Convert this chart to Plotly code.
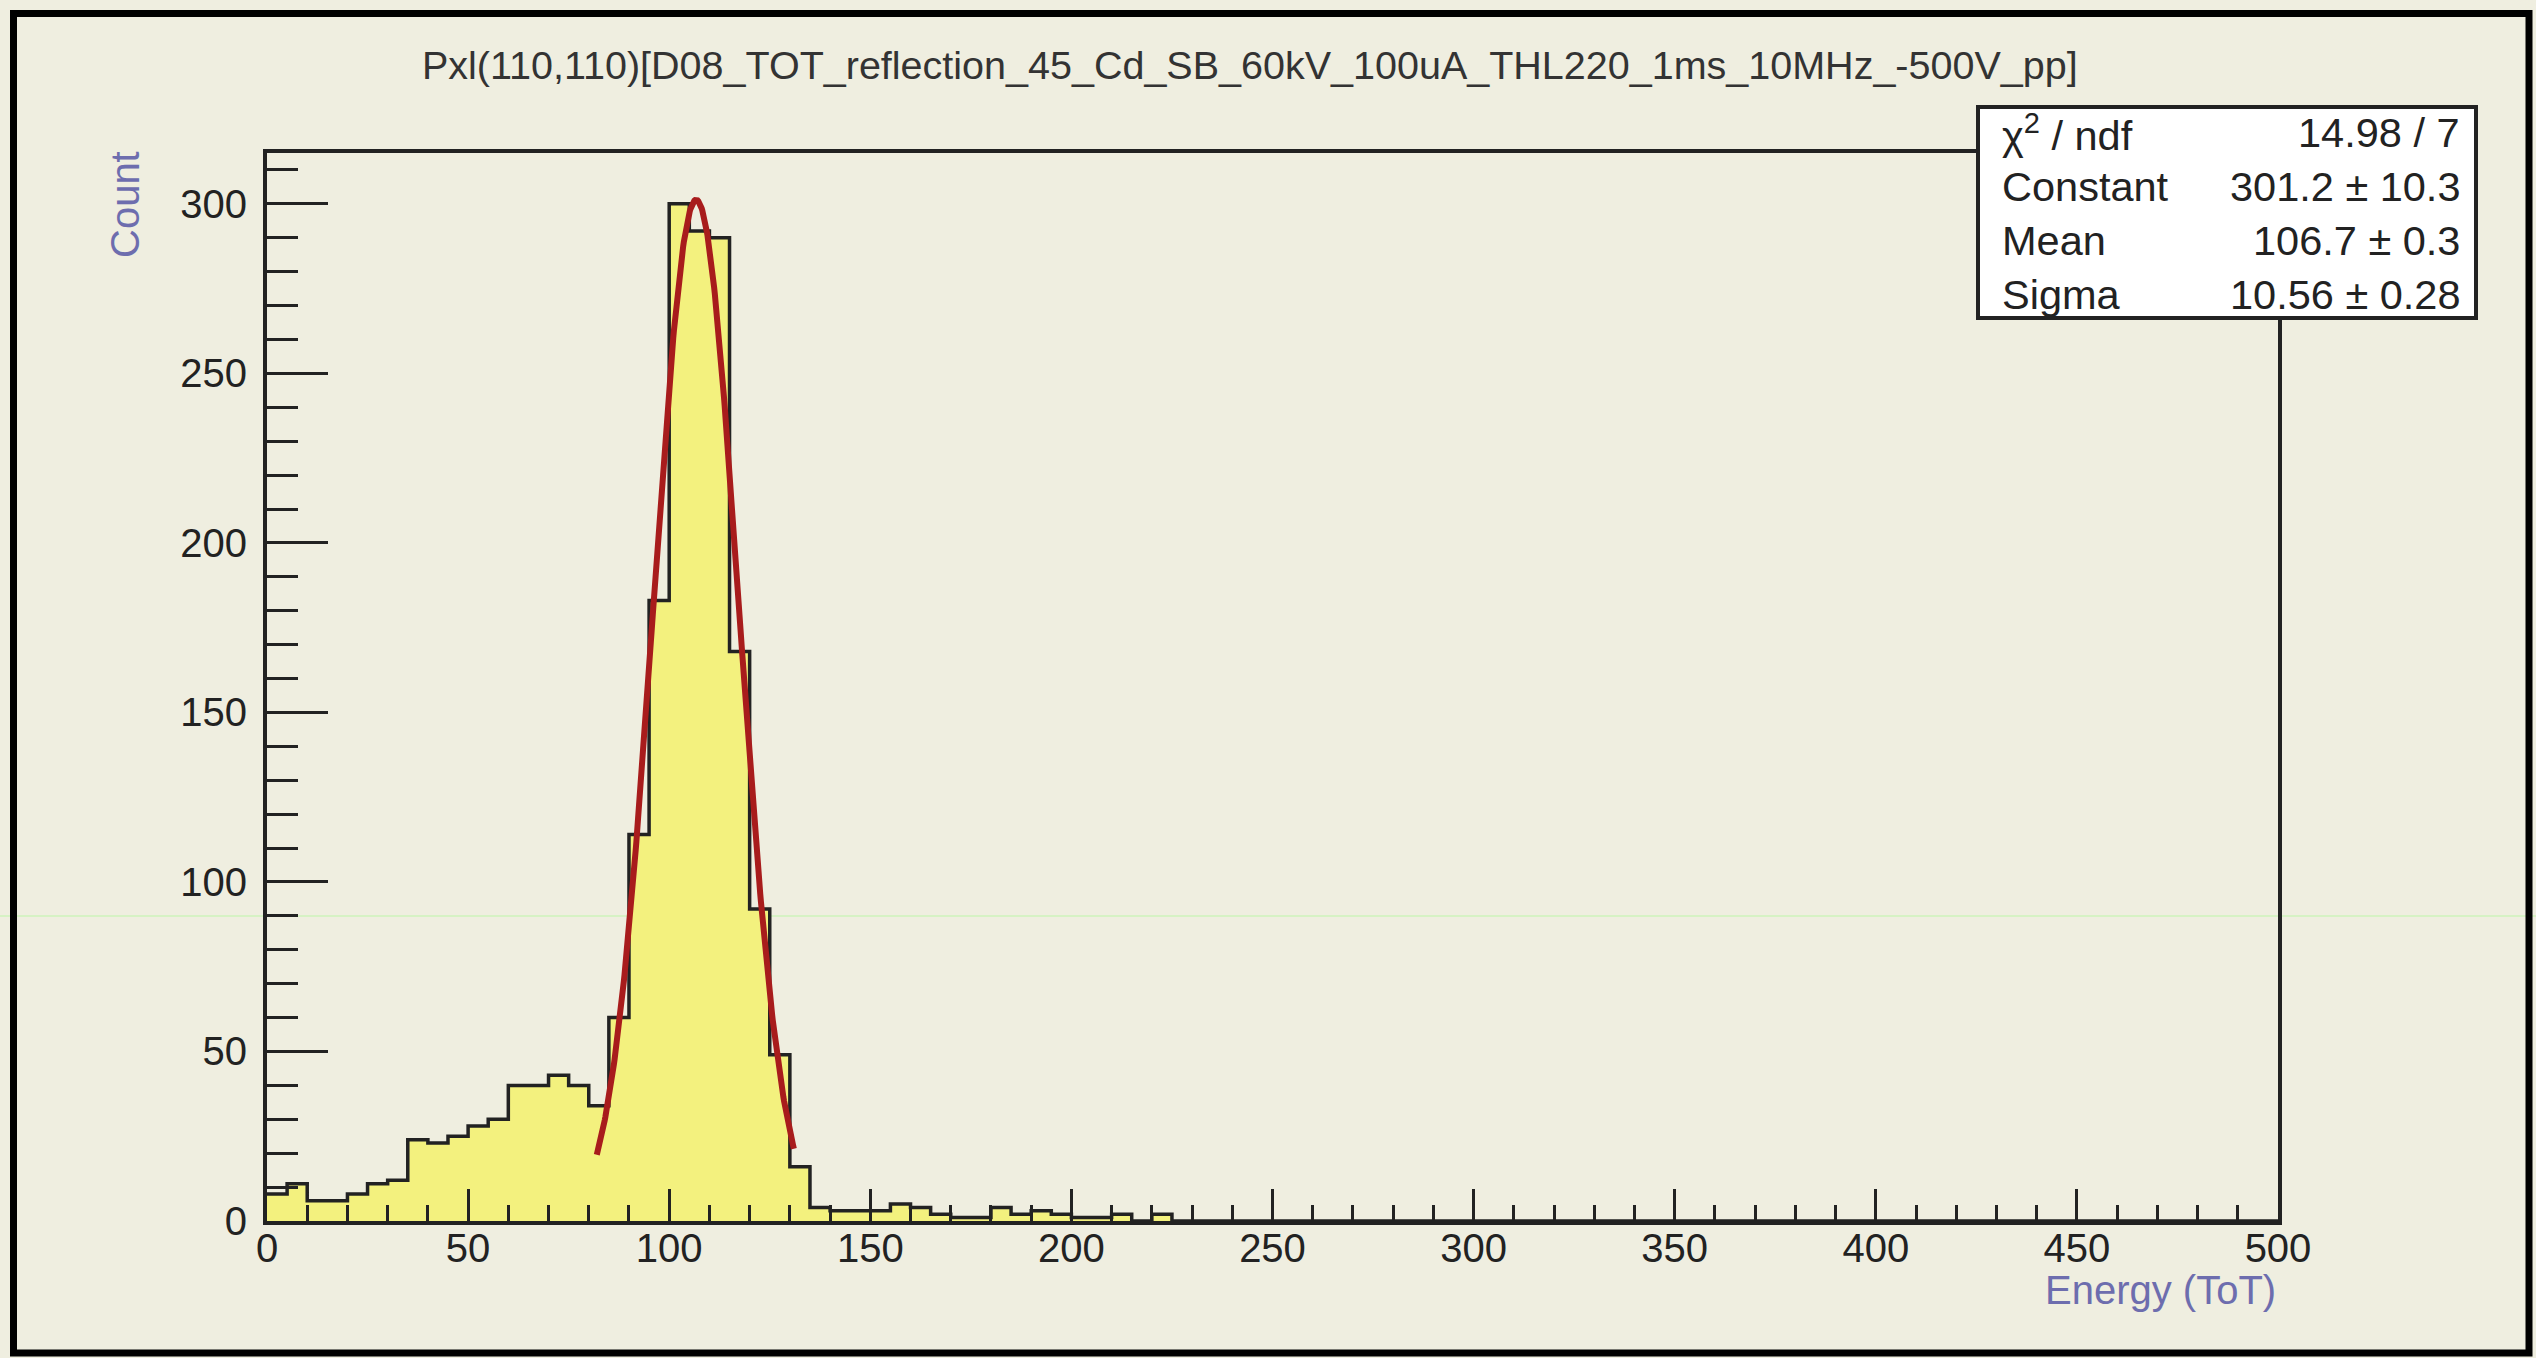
import numpy as np
import plotly.graph_objects as go

# ---------------- data ----------------
title_text = "Pxl(110,110)[D08_TOT_reflection_45_Cd_SB_60kV_100uA_THL220_1ms_10MHz_-500V_pp]"
x_title = "Energy (ToT)"
y_title = "Count"

bin_width = 5
x_min, x_max = 0, 500
counts = [8, 11, 6, 6, 8, 11, 12, 24, 23, 25,
          28, 30, 40, 40, 43, 40, 34, 60, 114, 183,
          300, 292, 290, 168, 92, 49, 16, 4, 3, 3,
          3, 5, 4, 2, 1, 1, 4, 2, 3, 2,
          1, 1, 2, 0, 2, 0, 0, 0, 0, 0] + [0] * 50

fit_constant = 301.2
fit_mean = 106.7
fit_sigma = 10.56
fit_range = [82, 131]

stat_labels = ["χ<sup>2</sup> / ndf", "Constant", "Mean", "Sigma"]
stat_values = ["14.98 / 7", "301.2 ± 10.3", "106.7 ± 0.3", "10.56 ± 0.28"]

x_ticks = [0, 50, 100, 150, 200, 250, 300, 350, 400, 450, 500]
y_ticks = [0, 50, 100, 150, 200, 250, 300]

# ---------------- layout geometry (pixels) ----------------
W, H = 2536, 1358
L, R, T, B = 267, 2278, 153, 1221
PW, PH = R - L, B - T

def px_x(p):
    return (p - L) / PW

def px_y(p):
    return (B - p) / PH

BG = "#efeee0"
YELLOW = "#f3f17e"
AXIS_COL = "#222222"
TITLE_COL = "#6d6dae"
FONT = "Liberation Sans, Arial, sans-serif"

# ---------------- histogram ----------------
edges = [x_min + i * bin_width for i in range(len(counts) + 1)]
hist_y = counts + [counts[-1]]

fig = go.Figure()
fig.add_trace(go.Scatter(
    x=edges, y=hist_y, mode="lines", line_shape="hv",
    line=dict(color=AXIS_COL, width=3.5),
    fill="tozeroy", fillcolor=YELLOW, hoverinfo="skip", showlegend=False))

# ---------------- gaussian fit ----------------
fx = np.linspace(fit_range[0], fit_range[1], 300)
fy = fit_constant * np.exp(-0.5 * ((fx - fit_mean) / fit_sigma) ** 2)
fig.add_trace(go.Scatter(
    x=fx, y=fy, mode="lines", line=dict(color="#a81c1c", width=6),
    hoverinfo="skip", showlegend=False))

# ---------------- shapes ----------------
shapes = []
# faint green scan-line artifact
shapes.append(dict(type="line", xref="paper", yref="paper",
                   x0=px_x(0), x1=px_x(W), y0=px_y(916), y1=px_y(916),
                   line=dict(color="#d6f2c4", width=2), layer="below"))
# stats box
shapes.append(dict(type="rect", xref="paper", yref="paper",
                   x0=px_x(1978), x1=px_x(2476), y0=px_y(318), y1=px_y(107),
                   line=dict(color="#222222", width=4), fillcolor="white",
                   layer="above"))
# page frame
shapes.append(dict(type="rect", xref="paper", yref="paper",
                   x0=px_x(13.5), x1=px_x(2529), y0=px_y(1353), y1=px_y(13.5),
                   line=dict(color="black", width=7), fillcolor="rgba(0,0,0,0)",
                   layer="above"))

# ---------------- annotations ----------------
ann = []
ann.append(dict(text=title_text, xref="paper", yref="paper",
                x=px_x(1250), y=px_y(65), xanchor="center", yanchor="middle",
                showarrow=False, font=dict(family=FONT, size=39.5, color="#333333")))
ann.append(dict(text=x_title, xref="paper", yref="paper",
                x=px_x(2278), y=px_y(1290), xanchor="right", yanchor="middle",
                showarrow=False, font=dict(family=FONT, size=40, color=TITLE_COL)))
ann.append(dict(text=y_title, xref="paper", yref="paper",
                x=px_x(125), y=px_y(205), xanchor="center", yanchor="middle",
                textangle=-90, showarrow=False,
                font=dict(family=FONT, size=40, color=TITLE_COL)))
row_y = [133, 187, 240, 294]
for lab, val, ry in zip(stat_labels, stat_values, row_y):
    ann.append(dict(text=lab, xref="paper", yref="paper", x=px_x(2000), y=px_y(ry),
                    xanchor="left", yanchor="middle", showarrow=False,
                    font=dict(family=FONT, size=41.5, color="#222222")))
    ann.append(dict(text=val, xref="paper", yref="paper", x=px_x(2462), y=px_y(ry),
                    xanchor="right", yanchor="middle", showarrow=False,
                    font=dict(family=FONT, size=41.5, color="#222222")))

fig.update_layout(
    width=W, height=H,
    margin=dict(l=L, r=W - R, t=T, b=H - B, pad=0),
    paper_bgcolor=BG, plot_bgcolor=BG,
    shapes=shapes, annotations=ann, showlegend=False,
)

fig.update_xaxes(
    range=[x_min, x_max], tickvals=x_ticks, ticktext=[str(v) for v in x_ticks],
    ticks="inside", ticklen=32, tickwidth=3, tickcolor=AXIS_COL,
    minor=dict(dtick=10, ticks="inside", ticklen=16, tickwidth=3, tickcolor=AXIS_COL),
    showline=True, linecolor=AXIS_COL, linewidth=4, mirror=True,
    showgrid=False, zeroline=False, ticklabelstandoff=-11,
    tickfont=dict(family=FONT, size=40, color="#222222"))

fig.update_yaxes(
    range=[0, 315], tickvals=y_ticks, ticktext=[str(v) for v in y_ticks],
    ticks="inside", ticklen=61, tickwidth=3, tickcolor=AXIS_COL,
    minor=dict(dtick=10, ticks="inside", ticklen=31, tickwidth=3, tickcolor=AXIS_COL),
    showline=True, linecolor=AXIS_COL, linewidth=4, mirror=True,
    showgrid=False, zeroline=False, ticklabelstandoff=8,
    tickfont=dict(family=FONT, size=40, color="#222222"))

fig.write_html("out.html")
